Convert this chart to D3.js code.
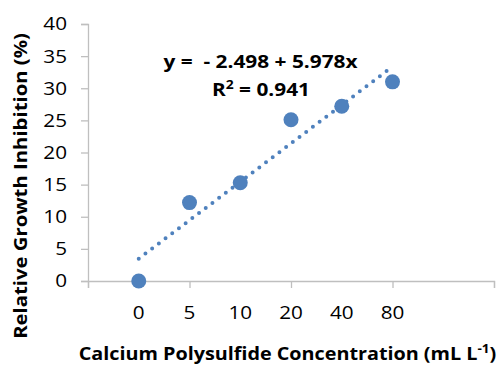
<!DOCTYPE html>
<html>
<head>
<meta charset="utf-8">
<script src="https://cdn.jsdelivr.net/npm/d3@7"></script>
<style>
  html, body { margin: 0; padding: 0; background: #fff; }
  svg { display: block; font-family: "Open Sans", sans-serif; }
</style>
</head>
<body>
<svg id="chart" width="498" height="365"></svg>
<script>
// Concentration categories (plotted at positions 1..6)
const categories = ["0", "5", "10", "20", "40", "80"];
const positions = [1, 2, 3, 4, 5, 6];
// Relative growth inhibition (%)
const inhibition = [0, 12.2, 15.3, 25.1, 27.2, 31.0];
// Linear fit reported on the chart
const intercept = -2.498;
const slope = 5.978;
const rSquared = 0.941;
const yTicks = [0, 5, 10, 15, 20, 25, 30, 35, 40];
const xMajorTicks = [0, 2, 4, 6, 8];

const svg = d3.select("#chart");
const color = "#4F81BD";
const axisColor = "#BFBFBF";
const font = "'Open Sans', sans-serif";
const stretch = 1.12; // horizontal widening of the label glyphs

const x = d3.scaleLinear().domain([0, 8]).range([88, 494]);
const y = d3.scaleLinear().domain([0, 40]).range([281, 24]);

// Widen a centred/anchored text element horizontally about a fixed x
function widen(sel, cx, sx) {
  sel.attr("transform", `translate(${cx},0) scale(${sx},1) translate(${-cx},0)`);
}
// Scale a text element so its rendered width equals a target width
function fitWidth(sel, cx, target) {
  const w = sel.node().getBBox().width;
  widen(sel, cx, target / w);
}

// Y axis
const yAxis = svg.append("g")
  .attr("transform", `translate(${x(0)},0)`)
  .call(d3.axisLeft(y).tickValues(yTicks).tickSize(7).tickPadding(14));
yAxis.select(".domain").attr("stroke", axisColor).attr("stroke-width", 1.3);
yAxis.selectAll(".tick line").attr("stroke", axisColor).attr("stroke-width", 1.3);
yAxis.selectAll(".tick text")
  .attr("font-family", font)
  .attr("font-size", 18.5).attr("fill", "#000")
  .each(function () { widen(d3.select(this), -21, stretch); });

// X axis: major ticks every 2 units, category labels at data positions
const xAxis = svg.append("g")
  .attr("transform", `translate(0,${y(0)})`)
  .call(d3.axisBottom(x).tickValues(xMajorTicks).tickSize(7).tickFormat(""));
xAxis.select(".domain").attr("stroke", axisColor).attr("stroke-width", 1.3);
xAxis.selectAll(".tick line").attr("stroke", axisColor).attr("stroke-width", 1.3);

svg.append("g").selectAll("text")
  .data(categories)
  .join("text")
  .attr("x", (d, i) => x(positions[i]))
  .attr("y", 319)
  .attr("text-anchor", "middle")
  .attr("font-size", 18.5)
  .attr("fill", "#000")
  .text(d => d)
  .each(function (d, i) { widen(d3.select(this), x(positions[i]), stretch); });

// Trend line (dotted) from the fitted equation
const fit = v => intercept + slope * v;
svg.append("line")
  .attr("x1", x(1)).attr("y1", y(fit(1)))
  .attr("x2", x(6)).attr("y2", y(fit(6)))
  .attr("stroke", color)
  .attr("stroke-width", 4)
  .attr("stroke-linecap", "round")
  .attr("stroke-dasharray", "0 8.4");

// Data markers
svg.append("g").selectAll("circle")
  .data(inhibition)
  .join("circle")
  .attr("cx", (d, i) => x(positions[i]))
  .attr("cy", d => y(d))
  .attr("r", 7.5)
  .attr("fill", color);

// Equation annotation
const eq = svg.append("text")
  .attr("x", 260.5).attr("y", 68)
  .attr("text-anchor", "middle")
  .attr("font-size", 18).attr("font-weight", "bold")
  .attr("xml:space", "preserve")
  .text(`y =  - ${Math.abs(intercept).toFixed(3)} + ${slope.toFixed(3)}x`);
fitWidth(eq, 260.5, 195);

const r2 = svg.append("text")
  .attr("x", 261).attr("y", 96)
  .attr("text-anchor", "middle")
  .attr("font-size", 18).attr("font-weight", "bold");
r2.append("tspan").text("R");
r2.append("tspan").attr("font-size", 12).attr("dy", -7).text("2");
r2.append("tspan").attr("dy", 7).text(` = ${rSquared.toFixed(3)}`);
fitWidth(r2, 261, 98);

// Axis titles
const xt = svg.append("text")
  .attr("x", 287.5).attr("y", 360)
  .attr("text-anchor", "middle")
  .attr("font-size", 17.5).attr("font-weight", "bold");
xt.append("tspan").text("Calcium Polysulfide Concentration (mL L");
xt.append("tspan").attr("font-size", 12).attr("dy", -7).text("-1");
xt.append("tspan").attr("dy", 7).text(")");
fitWidth(xt, 287.5, 418);

const yt = svg.append("text")
  .attr("text-anchor", "middle")
  .attr("font-size", 17.5).attr("font-weight", "bold")
  .text("Relative Growth Inhibition (%)");
const ytw = yt.node().getBBox().width;
yt.attr("transform", `translate(27,186) rotate(-90) scale(${306 / ytw},1)`);
</script>
</body>
</html>
